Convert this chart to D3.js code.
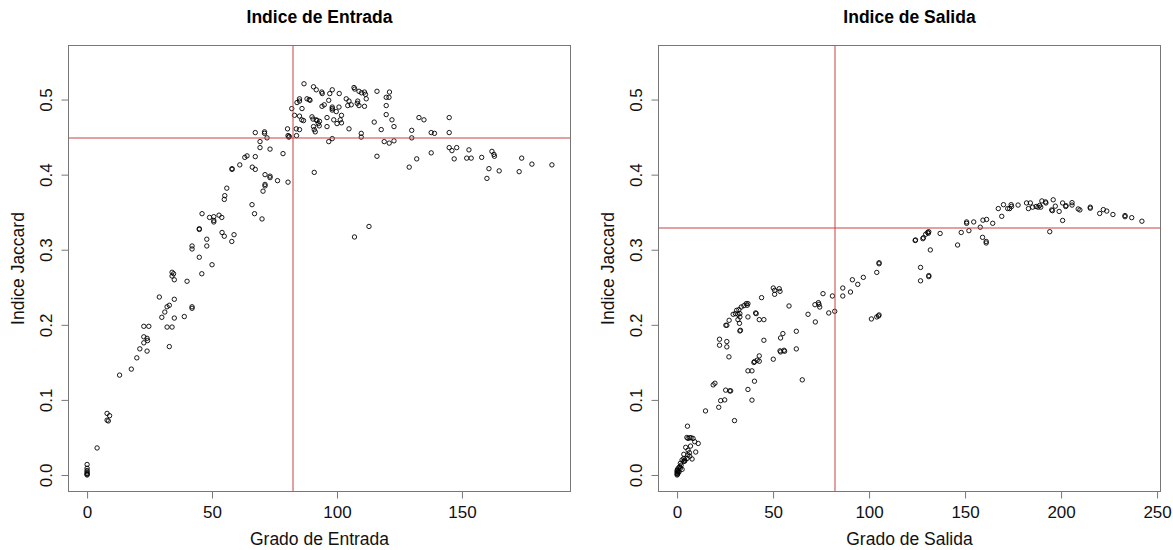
<!DOCTYPE html>
<html>
<head>
<meta charset="utf-8">
<script src="https://cdn.jsdelivr.net/npm/d3@7"></script>
<style>
body { margin: 0; background: #fff; }
text { font-family: "Liberation Sans", Arial, sans-serif; }
</style>
</head>
<body>
<div id="chart"></div>
<script>
// grado de entrada vs indice jaccard, [grado, jaccard]
var entrada = [
  [0,0.014],[0,0.009],[0,0.006],[0,0.004],[0,0.002],[0,0.001],[0,0],
  [4,0.036],[8,0.082],[9,0.079],[8,0.073],[8.5,0.072],[13,0.133],[17.7,0.141],[19.9,0.156],[21.1,0.168],
  [22.7,0.198],[24.7,0.198],[22.7,0.184],[24,0.182],[24.2,0.179],[22.7,0.176],[24,0.165],
  [28.9,0.237],[29.9,0.210],[31.1,0.217],[32,0.224],[32.9,0.226],[34.9,0.234],[34.9,0.209],[32,0.197],[34,0.197],[32.9,0.171],
  [34,0.270],[34.6,0.268],[34,0.265],[34.9,0.260],[40,0.258],[38.9,0.211],[42,0.224],[42,0.222],
  [44.9,0.328],[44.9,0.327],[44.9,0.290],[45.9,0.268],[42,0.305],[42,0.301],[47.9,0.314],[47.9,0.305],[50,0.280],
  [46,0.348],[49,0.343],[50.7,0.344],[50.7,0.339],[50.7,0.337],[52.8,0.346],[53.9,0.343],
  [54,0.323],[54.9,0.318],[57.9,0.311],[58.8,0.320],[66,0.360],[67,0.348],[70,0.341],
  [54.9,0.367],[55.1,0.372],[55.9,0.382],[58,0.408],[58,0.407],[61.1,0.413],[63.1,0.423],[64,0.425],
  [66.1,0.410],[67.3,0.407],[67.3,0.424],[67.3,0.456],[69.2,0.444],[69.2,0.436],[71,0.457],[71,0.455],[72,0.449],[73.2,0.434],
  [71.2,0.400],[73.2,0.398],[73.2,0.396],[71.2,0.387],[71.2,0.385],[70.4,0.378],[76.2,0.392],[78.4,0.428],[80.4,0.390],
  [80.2,0.461],[80.4,0.452],[80.7,0.450],[80.9,0.451],
  [81.9,0.488],[83,0.479],[85,0.478],[84,0.496],[85,0.501],[85,0.498],[86,0.488],[85.9,0.473],[86.6,0.472],
  [83.7,0.461],[85,0.460],[83.8,0.452],[86.8,0.521],[88,0.501],[88.9,0.500],[89.2,0.499],
  [90,0.477],[90.4,0.474],[90.6,0.464],[90.9,0.460],[91.3,0.457],[92,0.472],[92.5,0.468],[93,0.471],[91.7,0.473],[92.9,0.465],
  [90.6,0.517],[91.7,0.513],[93.9,0.510],[94.1,0.508],[94,0.491],[94.9,0.493],[96,0.476],[96,0.464],[96.7,0.499],[97.1,0.508],[98.1,0.513],
  [98.1,0.490],[98.1,0.488],[98.1,0.486],[98.7,0.473],[99.7,0.484],[100.8,0.490],[101.8,0.479],[101.8,0.469],[100,0.468],[101.3,0.473],[100.9,0.508],
  [96.7,0.444],[98.1,0.448],[90.9,0.403],
  [103.7,0.501],[104.8,0.498],[104.3,0.492],[105.7,0.493],[108.1,0.495],[108.3,0.498],[108.8,0.492],[111,0.491],[104.8,0.461],
  [106.8,0.516],[107.1,0.514],[108.8,0.511],[109.8,0.509],[111,0.510],[111.4,0.507],[111.7,0.501],[109.7,0.455],[109.7,0.450],
  [116,0.511],[121,0.510],[120.8,0.503],[119.7,0.503],[119.7,0.492],[119.7,0.480],[122,0.473],[122.8,0.464],
  [114.9,0.470],[117.7,0.460],[118.9,0.444],[120.9,0.442],[122.8,0.445],[116,0.4245],[107,0.317],[112.8,0.331],
  [128.9,0.410],[131.9,0.421],[129.9,0.459],[129.9,0.449],[132.8,0.476],[134.8,0.473],[137.7,0.456],[139,0.455],[137.7,0.429],
  [144.9,0.476],[144.9,0.456],[144.9,0.436],[146,0.432],[147.9,0.436],[146.9,0.421],
  [152.8,0.433],[151.9,0.422],[153.7,0.422],[157.9,0.423],[162,0.431],[162.8,0.427],[163,0.4245],[160.8,0.408],[160,0.395],[164.9,0.405],
  [172.9,0.404],[173.9,0.422],[178,0.414],[186,0.413]
];

// grado de salida vs indice jaccard, [grado, jaccard]
var salida = [
  [0,0],[0,0.002],[0,0.004],[0,0.006],[0.3,0.008],[0.5,0.003],[1,0.010],[1.4,0.011],[1.7,0.0155],[1.7,0.009],[2.1,0.013],
  [2.6,0.02],[2.6,0.0075],[3.5,0.018],[3.5,0.022],[3.5,0.0275],[4,0.0186],[4,0.020],[4.5,0.0368],[5.2,0.022],[5.6,0.0266],
  [5.7,0.033],[6.4,0.0297],[6.6,0.025],[7,0.0385],[7.8,0.0213],[9.7,0.0306],[5.4,0.065],[5.7,0.0487],[6.6,0.0496],[7.3,0.0496],
  [8.3,0.0487],[5.1,0.050],[9.2,0.0443],[11,0.042],[0.5,0.005],[1,0.004],[0.2,0.001],
  [14.8,0.0853],[18.8,0.120],[19.7,0.1222],[21.7,0.0902],[22.7,0.099],[24.8,0.100],[25.3,0.113],[27.4,0.112],[27.9,0.112],[29.9,0.0724],
  [22.1,0.1808],[22.1,0.1728],[25.9,0.1777],[25.9,0.1706],[27,0.1573],[25.4,0.1994],[25.9,0.1994],[27.1,0.206],
  [29.2,0.214],[30.4,0.2149],[31.7,0.214],[32.7,0.2149],[31,0.2193],[32.2,0.2202],[33.4,0.2237],[34.8,0.2255],[36,0.2282],[36.9,0.2282],[36.5,0.226],
  [31.7,0.2069],[32.7,0.2105],[32.5,0.202],[32.7,0.1918],[33,0.1927],[36.9,0.2105],[40.9,0.2158],[41.2,0.2149],[42.8,0.2069],[45.2,0.2069],
  [44,0.2362],[45.2,0.1794],[50.1,0.249],[50.8,0.2459],[53.2,0.2481],[53.6,0.2446],[50.8,0.2406],[58.3,0.2251],
  [36.9,0.1139],[39,0.0997],[36.9,0.1387],[39,0.1387],[40.3,0.1249],[40,0.1498],[40.3,0.151],[41.7,0.1529],[42.8,0.1586],[42.8,0.1515],
  [50.1,0.1542],[53.6,0.1653],[53.9,0.1639],[55.7,0.1661],[56,0.1648],[53.9,0.1825],[55.1,0.1883],[62.1,0.1914],[62.1,0.1679],[65.2,0.1267],
  [68.2,0.214],[72,0.2038],[71.8,0.2268],[73.6,0.2295],[73.9,0.2273],[74.3,0.2237],[76,0.2415],[79,0.2158],[80.9,0.2384],[82.1,0.218],
  [86.3,0.249],[86.3,0.2384],[91.3,0.26],[90.3,0.2437],[94.1,0.2539],[97,0.2632],
  [104,0.2698],[105.2,0.2813],[105.2,0.2827],[101.2,0.2078],[104,0.2105],[104.9,0.2118],[105.2,0.2131],
  [124,0.3123],[124.2,0.3130],[126.8,0.2764],[126.8,0.2586],[128,0.3147],[128.3,0.316],[129.5,0.3207],[130.5,0.323],[131.1,0.324],[130.9,0.322],
  [131.1,0.2656],[131.1,0.2642],[131.9,0.2997],[137,0.3217],[146.1,0.3063],[148,0.323],[150.8,0.3352],[150.8,0.337],[152,0.3254],[154.5,0.337],
  [157.9,0.33],[159.3,0.3394],[159.1,0.3165],[161,0.311],[161,0.309],[161.2,0.3403],[164.4,0.3352],[167.3,0.3548],[169.1,0.3445],[170,0.36],
  [172.2,0.3548],[173.2,0.3548],[174,0.36],[174.2,0.3576],[177.6,0.3595],[182,0.3623],[183,0.3548],[184,0.3623],[185.2,0.3567],[187,0.3576],
  [188,0.3567],[188.8,0.359],[189.4,0.3567],[190,0.365],[191.9,0.3637],[192.1,0.3623],[194.1,0.324],[195.1,0.353],[195.5,0.352],[195.9,0.3665],
  [197,0.358],[199,0.351],[200.8,0.339],[200.8,0.3623],[202.4,0.3576],[202.6,0.3586],[205.7,0.3627],[205.7,0.3595],[208.9,0.3543],[209.8,0.353],
  [215.2,0.3567],[215.2,0.3553],[220.1,0.3483],[222,0.3534],[223.8,0.3515],[227,0.3469],[233.3,0.3455],[233.3,0.344],[236.8,0.3427],[242.1,0.338]
];

var ticksEntrada = [0, 50, 100, 150];
var ticksSalida = [0, 50, 100, 150, 200, 250];
var ticksJaccard = [0, 0.1, 0.2, 0.3, 0.4, 0.5];
var yLimits = [0, 0.55];

// red reference lines [grado, jaccard]
var refEntrada = [82, 0.45];
var refSalida = [82, 0.33];

var titles = ["Indice de Entrada", "Indice de Salida"];
var xLabels = ["Grado de Entrada", "Grado de Salida"];
var yLabel = "Indice Jaccard";

var widthsvg = 1173;
var heightsvg = 550;
var boxWidth = 502;
var boxHeight = 446;
var boxTop = 45.5;
var panelLeft = [68.5, 658.5];
var frameColor = "#777";
var refColor = "#c94040";
var fontSize = 17;

var svg = d3.select("#chart")
    .append("svg")
    .attr("width", widthsvg)
    .attr("height", heightsvg);

function drawPanel(i, data, xticks, ref) {
    // R style axis limits: data range plus 4% each side
    var xmin = d3.min(data, d => d[0]);
    var xmax = d3.max(data, d => d[0]);
    var xpad = (xmax - xmin) * 0.04;
    var ypad = (yLimits[1] - yLimits[0]) * 0.04;

    var scalex = d3.scaleLinear()
        .domain([xmin - xpad, xmax + xpad])
        .range([0, boxWidth]);

    var scaley = d3.scaleLinear()
        .domain([yLimits[0] - ypad, yLimits[1] + ypad])
        .range([boxHeight, 0]);

    var chartGroup = svg.append("g")
        .attr("transform", `translate(${panelLeft[i]}, ${boxTop})`);

    // axes
    var axisbottom = d3.axisBottom(scalex)
        .tickValues(xticks)
        .tickSize(7)
        .tickPadding(7)
        .tickFormat(d3.format("d"));

    var axisleft = d3.axisLeft(scaley)
        .tickValues(ticksJaccard)
        .tickSize(7)
        .tickFormat(d3.format(".1f"));

    var gx = chartGroup.append("g")
        .attr("transform", `translate(0, ${boxHeight})`)
        .call(axisbottom);

    var gy = chartGroup.append("g")
        .call(axisleft);

    [gx, gy].forEach(function(ax) {
        ax.select(".domain").remove();
        ax.attr("font-family", "Liberation Sans, Arial, sans-serif")
            .attr("font-size", fontSize);
        ax.selectAll("line").attr("stroke", frameColor);
        ax.selectAll("text").attr("fill", "#111");
    });

    gy.selectAll("text")
        .attr("x", 0)
        .attr("dy", 0)
        .attr("text-anchor", "middle")
        .attr("transform", "translate(-16.6, 0) rotate(-90)");

    // points
    chartGroup.selectAll("circle")
        .data(data)
        .enter()
        .append("circle")
        .attr("cx", d => scalex(d[0]))
        .attr("cy", d => scaley(d[1]))
        .attr("r", 2.2)
        .attr("fill", "none")
        .attr("stroke", "#000")
        .attr("stroke-width", 0.9);

    // reference lines
    chartGroup.append("line")
        .attr("x1", Math.round(scalex(ref[0])) + 0.5)
        .attr("x2", Math.round(scalex(ref[0])) + 0.5)
        .attr("y1", 0)
        .attr("y2", boxHeight)
        .attr("stroke", refColor)
        .attr("stroke-width", 1);

    chartGroup.append("line")
        .attr("x1", 0)
        .attr("x2", boxWidth)
        .attr("y1", Math.round(scaley(ref[1])) + 0.5)
        .attr("y2", Math.round(scaley(ref[1])) + 0.5)
        .attr("stroke", refColor)
        .attr("stroke-width", 1);

    // frame
    chartGroup.append("rect")
        .attr("x", 0)
        .attr("y", 0)
        .attr("width", boxWidth)
        .attr("height", boxHeight)
        .attr("fill", "none")
        .attr("stroke", frameColor);

    // title and labels
    chartGroup.append("text")
        .attr("x", boxWidth / 2)
        .attr("y", 23 - boxTop)
        .attr("text-anchor", "middle")
        .attr("font-weight", "bold")
        .attr("font-size", 17.5)
        .text(titles[i]);

    chartGroup.append("text")
        .attr("x", boxWidth / 2)
        .attr("y", 545 - boxTop)
        .attr("text-anchor", "middle")
        .attr("font-size", 17.5)
        .attr("fill", "#111")
        .text(xLabels[i]);

    chartGroup.append("text")
        .attr("transform", `translate(-44.3, ${boxHeight / 2}) rotate(-90)`)
        .attr("text-anchor", "middle")
        .attr("font-size", 17.5)
        .attr("fill", "#111")
        .text(yLabel);
}

drawPanel(0, entrada, ticksEntrada, refEntrada);
drawPanel(1, salida, ticksSalida, refSalida);
</script>
</body>
</html>
